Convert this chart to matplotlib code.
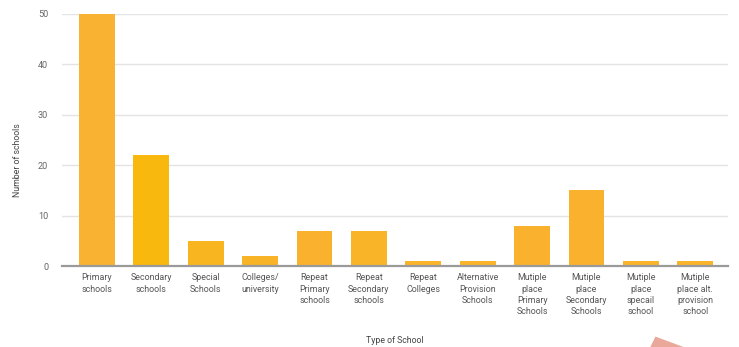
import matplotlib.pyplot as plt
from matplotlib.patches import Polygon

# school counts by type
school_types = [
    "Primary\nschools", "Secondary\nschools", "Special\nSchools", "Colleges/\nuniversity",
    "Repeat\nPrimary\nschools", "Repeat\nSecondary\nschools", "Repeat\nColleges",
    "Alternative\nProvision\nSchools", "Mutiple\nplace\nPrimary\nSchools",
    "Mutiple\nplace\nSecondary\nSchools", "Mutiple\nplace\nspecail\nschool",
    "Mutiple\nplace alt.\nprovision\nschool",
]
num_schools = [50, 22, 5, 2, 7, 7, 1, 1, 8, 15, 1, 1]
y_ticks = [0, 10, 20, 30, 40, 50]

bar_colors = ["#FAB232", "#F8B80E", "#F9B520", "#F9B326", "#FAB22E", "#F9B428",
              "#F9B42A", "#F9B42A", "#FAB22E", "#FAB22E", "#F9B42A", "#F9B42A"]

plt.rcParams['font.family'] = ['Roboto', 'DejaVu Sans']

fig = plt.figure(figsize=(7.39, 3.47), dpi=100)
ax = fig.add_axes([0.084, 0.233, 0.901, 0.727])

x = range(len(school_types))
ax.bar(x, num_schools, width=0.66, color=bar_colors, zorder=3)

ax.set_xlim(-0.64, 11.6)
ax.set_ylim(0, 50)
ax.set_yticks(y_ticks)
ax.set_xticks(list(x))
ax.set_xticklabels(school_types, fontsize=6.4, color="#555555", linespacing=1.35)
ax.tick_params(axis="y", labelsize=6.6, labelcolor="#666666", length=0, pad=10)
ax.tick_params(axis="x", length=0, pad=5)

ax.grid(axis="y", color="#E4E4E4", linewidth=1.0, zorder=0)
for side in ["top", "right", "left"]:
    ax.spines[side].set_visible(False)
ax.spines["bottom"].set_color("#9A9A9A")
ax.spines["bottom"].set_linewidth(1.6)
ax.spines["bottom"].set_zorder(4)

ax.set_ylabel("Number of schools", fontsize=6.3, color="#444444")
ax.yaxis.set_label_coords(-0.06, 0.42)
ax.set_xlabel("Type of School", fontsize=6.3, color="#444444", labelpad=14)

# small pink pointer in the lower right corner
fig.patches.append(Polygon([[0.880, 0.0], [0.887, 0.03], [0.925, 0.0]],
                           closed=True, transform=fig.transFigure,
                           facecolor="#E9A89A", edgecolor="none"))

fig.savefig("out.png", dpi=100)
